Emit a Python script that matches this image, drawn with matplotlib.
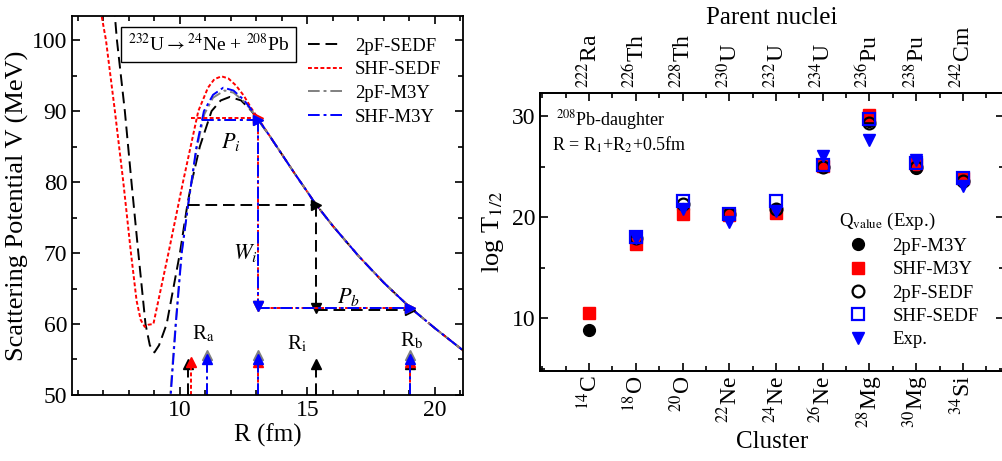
import matplotlib
matplotlib.use("Agg")
import matplotlib.pyplot as plt
import numpy as np
from matplotlib.ticker import MultipleLocator

# ==============================
# Fonts / style
# ==============================
plt.rcParams['font.family'] = ['Liberation Serif', 'DejaVu Serif']
plt.rcParams['mathtext.fontset'] = 'stix'
plt.rcParams['xtick.direction'] = 'in'
plt.rcParams['ytick.direction'] = 'in'

# ==============================
# Left panel data: potentials
# ==============================
R_black = [7.42, 7.45, 7.53, 7.84, 8.10, 8.37, 8.65, 8.82, 9.0, 9.18, 9.48,
           10.0, 10.3, 10.46, 10.78, 11.24, 11.6, 11.96, 12.4, 12.81, 13.06]
V_black = [105, 103.4, 100, 90, 80, 70, 60, 57.0, 56.0, 57.0, 60.0,
           70.0, 77.0, 80.0, 85.0, 90.0, 91.5, 92.0, 91.5, 90.0, 88.8]

R_red = [6.85, 7.10, 7.45, 7.78, 8.08, 8.30, 8.46, 8.62, 8.76, 8.96, 9.55,
         10.12, 10.72, 11.1, 11.35, 11.63, 11.9, 12.2, 12.5, 12.8, 13.06]
V_red = [105, 100, 90, 80, 70, 63.3, 60.6, 59.6, 59.9, 60.0, 70.0,
         80.0, 90.0, 93.3, 94.5, 94.9, 94.6, 93.6, 92.2, 90.4, 89.0]

R_blue = [9.6, 9.64, 9.84, 10.07, 10.33, 10.65, 10.94, 11.3, 11.7, 12.1, 12.5, 12.85, 13.06]
V_blue = [48, 50, 60, 70, 77, 85, 90, 92.3, 93.3, 92.9, 91.6, 90.0, 88.9]

R_gray = [9.58, 9.62, 9.83, 10.06, 10.33, 10.66, 10.96, 11.3, 11.75, 12.1, 12.5, 12.85, 13.06]
V_gray = [48, 50, 60, 70, 77, 84.8, 89.6, 91.9, 92.9, 92.6, 91.4, 89.9, 88.8]

# common Coulomb-like tail
R_tail = [13.06, 13.5, 14.0, 14.5, 15.0, 15.3, 16.0, 17.0, 18.0, 19.0, 20.0, 21.2]
V_tail = [88.8, 86.6, 83.9, 81.2, 78.6, 77.0, 73.8, 69.6, 65.8, 62.4, 59.4, 56.0]

# turning points / energies per model
models = ['2pF-SEDF', 'SHF-SEDF', '2pF-M3Y', 'SHF-M3Y']
R_a = [10.33, 10.45, 11.07, 11.07]
R_i = [15.33, 13.05, 13.05, 13.05]
R_b = [19.02, 19.02, 19.02, 19.02]
E_start = [76.8, 89.0, 88.7, 88.7]      # horizontal P_i level
E_q = [62.3, 62.6, 62.6, 62.6]          # Q-value level
tip_h = [54.3, 54.6, 55.7, 55.1]        # height of bottom arrow heads
P_start = [10.3, 10.45, 10.85, 10.85]   # start of P_i arrow

# ==============================
# Right panel data: log T1/2
# ==============================
clusters = [r'$^{14}$C', r'$^{18}$O', r'$^{20}$O', r'$^{22}$Ne', r'$^{24}$Ne',
            r'$^{26}$Ne', r'$^{28}$Mg', r'$^{30}$Mg', r'$^{34}$Si']
parents = [r'$^{222}$Ra', r'$^{226}$Th', r'$^{228}$Th', r'$^{230}$U', r'$^{232}$U',
           r'$^{234}$U', r'$^{236}$Pu', r'$^{238}$Pu', r'$^{242}$Cm']
logT_2pF_M3Y = [8.85, 17.6, 20.8, 20.2, 20.7, 25.0, 29.5, 24.9, 23.6]
logT_SHF_M3Y = [10.5, 17.3, 20.3, 20.2, 20.4, 25.1, 30.1, 25.3, 23.9]
logT_2pF_SEDF = [np.nan, 17.9, 21.3, 20.3, 20.8, 25.0, 29.3, 25.0, 23.6]
logT_SHF_SEDF = [np.nan, 18.0, 21.6, 20.3, 21.6, 25.2, 29.7, 25.4, 23.9]
logT_exp = [np.nan, 17.9, 20.8, 19.5, 20.6, 26.1, 27.6, 25.7, 23.1]

# ==============================
# Figure
# ==============================
fig = plt.figure(figsize=(10.02, 4.61), dpi=100)
ax = fig.add_axes([0.0719, 0.1432, 0.3902, 0.8221])
ax2 = fig.add_axes([0.539, 0.195, 0.463, 0.6025])

# ---------- left panel ----------
styles = {
    '2pF-SEDF': dict(color='black', ls=(0, (6, 3))),
    'SHF-SEDF': dict(color='red', ls=(0, (2, 1.2))),
    '2pF-M3Y': dict(color='gray', ls=(0, (6, 2, 1.5, 2))),
    'SHF-M3Y': dict(color='blue', ls=(0, (6, 2, 1.5, 2))),
}
near = {'2pF-SEDF': (R_black, V_black), 'SHF-SEDF': (R_red, V_red),
        '2pF-M3Y': (R_gray, V_gray), 'SHF-M3Y': (R_blue, V_blue)}

lw = 1.4
for m in models:
    st = styles[m]
    r0, v0 = near[m]
    ax.plot(list(r0) + R_tail[1:], list(v0) + V_tail[1:], lw=lw, label=m, **st)

# arrows for the WKB path
for i, m in enumerate(models):
    st = styles[m]
    c = st['color']
    # P_i horizontal
    ax.plot([P_start[i], R_i[i]], [E_start[i]] * 2,
            lw=lw, marker='>', markevery=[1], ms=7, mfc=c, mec=c, **st)
    # W_i vertical down
    ax.plot([R_i[i], R_i[i]], [E_start[i], E_q[i]], lw=lw, marker='v',
            markevery=[1], ms=7, mfc=c, mec=c, **st)
    # P_b horizontal
    ax.plot([R_i[i], R_b[i]], [E_q[i] - 0.3, E_q[i] - 0.3], lw=lw, marker='>',
            markevery=[1], ms=7, mfc=c, mec=c, **st)
    # bottom arrows marking R_a, R_i, R_b
    for xr in (R_a[i], R_i[i], R_b[i]):
        ax.plot([xr, xr], [50, tip_h[i]], lw=lw, marker='^', markevery=[1],
                ms=7, mfc=c, mec=c, clip_on=False, **st)

ax.text(12.0, 85.6, r'$P_i$', fontsize=16, ha='center', va='center')
ax.text(12.55, 70.0, r'$W_i$', fontsize=16, ha='center', va='center')
ax.text(16.6, 63.8, r'$P_b$', fontsize=16, ha='center', va='center')
ax.text(10.9, 58.6, r'R$_{\rm a}$', fontsize=15, ha='center', va='center')
ax.text(14.6, 57.2, r'R$_{\rm i}$', fontsize=15, ha='center', va='center')
ax.text(19.1, 57.6, r'R$_{\rm b}$', fontsize=15, ha='center', va='center')

ax.text(0.35, 0.925, r'$^{232}$U$\rightarrow$$^{24}$Ne + $^{208}$Pb',
        transform=ax.transAxes, fontsize=14, ha='center', va='center',
        bbox=dict(boxstyle='square,pad=0.35', fc='white', ec='black', lw=1))

ax.legend(loc='upper right', frameon=False, fontsize=13.5, handlelength=1.8,
          labelspacing=0.35, borderaxespad=0.75, handletextpad=0.7)

ax.set_xlim(5.77, 21.1)
ax.set_ylim(50, 103.4)
ax.xaxis.set_major_locator(MultipleLocator(5))
ax.xaxis.set_minor_locator(MultipleLocator(1))
ax.yaxis.set_major_locator(MultipleLocator(10))
ax.yaxis.set_minor_locator(MultipleLocator(5))
ax.tick_params(which='both', top=True, right=True, labelsize=17, width=1.2)
ax.tick_params(which='major', length=6)
ax.tick_params(which='minor', length=3.5)
ax.set_xlabel('R (fm)', fontsize=18, labelpad=2)
ax.set_ylabel('Scattering Potential V (MeV)', fontsize=19, labelpad=2)
for sp in ax.spines.values():
    sp.set_linewidth(1.3)

# ---------- right panel ----------
x = np.arange(len(clusters))
ms = 8.5
ax2.plot(x, logT_2pF_M3Y, 'o', color='black', ms=ms, label='2pF-M3Y')
ax2.plot(x, logT_SHF_M3Y, 's', color='red', ms=ms, label='SHF-M3Y')
ax2.plot(x, logT_2pF_SEDF, 'o', mfc='none', mec='black', mew=1.6, ms=ms,
         label='2pF-SEDF')
ax2.plot(x, logT_SHF_SEDF, 's', mfc='none', mec='blue', mew=1.6, ms=ms,
         label='SHF-SEDF')
ax2.plot(x, logT_exp, 'v', color='blue', ms=ms, label='Exp.')

leg = ax2.legend(loc='upper left', bbox_to_anchor=(0.628, 0.605), frameon=False,
                 fontsize=13.5, title=r'Q$_{\rm value}$ (Exp.)', title_fontsize=13.5,
                 alignment='left', handletextpad=0.85, labelspacing=0.33,
                 borderaxespad=0.0, handlelength=2.0)

ax2.text(0.035, 0.905, r'$^{208}$Pb-daughter', transform=ax2.transAxes,
         fontsize=13, va='center')
ax2.text(0.025, 0.815, r'R = R$_1$+R$_2$+0.5fm', transform=ax2.transAxes,
         fontsize=13, va='center')

ax2.set_xlim(-1.05, 8.88)
ax2.set_ylim(4.77, 32.25)
ax2.set_xticks(x)
ax2.set_xticklabels(clusters, rotation=90, fontsize=17)
ax2.xaxis.set_minor_locator(MultipleLocator(0.5))
ax2.yaxis.set_major_locator(MultipleLocator(10))
ax2.yaxis.set_minor_locator(MultipleLocator(5))
ax2.tick_params(which='both', right=True, labelsize=17, width=1.2)
ax2.tick_params(axis='x', labelsize=17)
ax2.tick_params(which='major', length=6)
ax2.tick_params(which='minor', length=3.5)
ax2.set_xlabel('Cluster', fontsize=18, labelpad=2)
ax2.set_ylabel(r'log T$_{1/2}$', fontsize=19, labelpad=4)
for sp in ax2.spines.values():
    sp.set_linewidth(1.3)

top = ax2.twiny()
top.set_xlim(ax2.get_xlim())
top.set_xticks(x)
top.set_xticklabels(parents, rotation=90, fontsize=17)
top.xaxis.set_minor_locator(MultipleLocator(0.5))
top.tick_params(which='both', direction='in', width=1.2)
top.tick_params(which='major', length=6)
top.tick_params(which='minor', length=3.5)
top.set_xlabel('Parent nuclei', fontsize=18, labelpad=2)
for sp in top.spines.values():
    sp.set_linewidth(1.3)

fig.savefig('out.png', dpi=100)
